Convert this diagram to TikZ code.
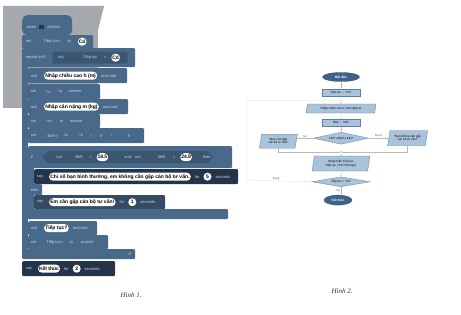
\documentclass[tikz,border=0pt]{standalone}
\usepackage{fontspec}
\setmainfont{Liberation Sans}
\newfontfamily\capfont{Liberation Serif}
\newfontfamily\symfont{DejaVu Sans}
\usetikzlibrary{arrows.meta,calc,positioning,shapes.geometric,shapes.misc}
\definecolor{blockblue}{HTML}{48698A}
\definecolor{blockdark}{HTML}{24344A}
\definecolor{photogray}{HTML}{A5A8AC}
\definecolor{flowfill}{HTML}{A9C3DA}
\definecolor{flowline}{HTML}{5C80A4}
\definecolor{termfill}{HTML}{3D6389}
\tikzset{
  sblock/.style={rectangle, fill=blockblue, anchor=north west, inner sep=0pt, rounded corners=1.2pt},
  sdark/.style={sblock, fill=blockdark},
  smid/.style={sblock, fill=blockblue!72!black},
  sword/.style={text=white!72!blockblue, font=\fontsize{4}{4}\selectfont, inner sep=0.6pt},
  pill/.style={rounded rectangle, fill=white, text=black, font=\bfseries\fontsize{5}{5}\selectfont, inner xsep=0.5pt, inner ysep=1.1pt, minimum height=8pt},
  cond/.style={chamfered rectangle, chamfered rectangle xsep=4pt, fill=blockblue!82!black, inner sep=0.6pt, minimum height=12pt, text=white!72!blockblue, font=\fontsize{4}{4}\selectfont},
  flagbox/.style={fill=blockdark, minimum width=5pt, minimum height=4pt, inner sep=0pt},
  fterm/.style={ellipse, fill=termfill, draw=termfill!70!black, line width=0.3pt, text=white, font=\bfseries\fontsize{3.2}{3.5}\selectfont, inner sep=0pt},
  fproc/.style={rectangle, fill=flowfill, draw=flowline, line width=0.3pt, font=\fontsize{3}{3.4}\selectfont, inner sep=0.5pt},
  fio/.style={trapezium, trapezium left angle=72, trapezium right angle=108, trapezium stretches body, fill=flowfill, draw=flowline, line width=0.3pt, font=\fontsize{3}{3.4}\selectfont, align=center, inner sep=0.5pt},
  fdec/.style={diamond, shape aspect=5, fill=flowfill, draw=flowline, line width=0.3pt, font=\fontsize{3}{3.4}\selectfont, inner sep=0pt},
  flow/.style={-{Stealth[length=1.6pt, width=1.4pt]}, draw=gray!55, line width=0.3pt},
  faint/.style={flow, draw=gray!30},
  flab/.style={font=\fontsize{2.8}{3}\selectfont, text=gray!75!black, inner sep=0.8pt},
  caption/.style={font=\capfont\itshape\fontsize{7}{7}\selectfont, text=black!80}
}
\newcommand{\drop}{\,{\symfont\fontsize{3}{3}\selectfont▾}}

\begin{document}
\begin{tikzpicture}[x=1pt, y=-1pt]
  \useasboundingbox (0,0) rectangle (461,315);
  % edge of the photographed page
  \fill[photogray] (3,6) -- (104,6) -- (98,30) -- (97,108) -- (3,108) -- cycle;

  % Hinh 1: the Scratch script
  \node[sblock, minimum width=6pt, minimum height=196pt] (armR) at (22,62) {};
  \node[sblock, minimum width=6pt, minimum height=55pt] (armI) at (28,164) {};
  \node[sblock, minimum width=50pt, minimum height=20pt, rounded corners=5pt] (hat) at (22,15) {};
  \node[sblock, minimum width=71pt, minimum height=13pt] (b1) at (22,35) {};
  \node[sblock, minimum width=113pt, minimum height=19pt] (b2) at (22,48) {};
  \node[sblock, minimum width=99pt, minimum height=15pt] (b3) at (28,68) {};
  \node[sblock, minimum width=72pt, minimum height=15pt] (b4) at (28,84) {};
  \node[sblock, minimum width=100pt, minimum height=15pt] (b5) at (28,99) {};
  \node[sblock, minimum width=72pt, minimum height=14pt] (b6) at (28,114) {};
  \node[sblock, minimum width=116pt, minimum height=15pt] (b7) at (28,128) {};
  \node[sblock, minimum width=204pt, minimum height=22pt] (b8) at (28,146) {};
  \node[sdark, minimum width=204pt, minimum height=15pt] (b9) at (34,169) {};
  \node[sblock, minimum width=14pt, minimum height=11pt] (b10) at (28,184) {};
  \node[smid, minimum width=131pt, minimum height=14pt] (b11) at (34,195) {};
  \node[sblock, minimum width=200pt, minimum height=10pt] (b12) at (28,209) {};
  \node[sblock, minimum width=69pt, minimum height=14pt] (b13) at (28,221) {};
  \node[sblock, minimum width=80pt, minimum height=14pt] (b14) at (28,235) {};
  \node[sblock, minimum width=113pt, minimum height=10pt] (b15) at (22,249) {};
  \node[sdark, minimum width=93pt, minimum height=15pt] (b16) at (22,261) {};

  % when flag clicked
  \node[sword, right=4pt of hat.west, yshift=-2pt] (h1) {when};
  \node[flagbox, right=2pt of h1] (h2) {};
  \node[sword, right=2pt of h2] (h3) {clicked};
  % set Tiep tuc to Co
  \node[sword, right=3pt of b1.west] (s1) {set};
  \node[sword, right=11pt of s1] (s2) {Tiếp tục\drop};
  \node[sword, right=6pt of s2] (s3) {to};
  \node[pill, right=6pt of s3] (s4) {Có};
  % repeat until
  \node[sword, right=3pt of b2.west] (r1) {repeat until};
  \node[cond, minimum width=75pt, right=6pt of r1] (r2) {};
  \node[sword, right=5pt of r2.west] (r3) {not};
  \node[sword, right=18pt of r3] (r4) {Tiếp tục};
  \node[sword, right=5pt of r4] (r5) {=};
  \node[pill, right=4pt of r5] (r6) {Có};
  % ask height
  \node[sword, right=2pt of b3.west] (a1) {ask};
  \node[pill, right=6pt of a1] (a2) {Nhập chiều cao h (m)};
  \node[sword, right=3pt of a2] (a3) {and wait};
  \node[sword, right=2pt of b4.west] (a4) {set};
  \node[sword, right=9pt of a4] (a5) {h\drop};
  \node[sword, right=6pt of a5] (a6) {to};
  \node[sword, right=5pt of a6] (a7) {answer};
  % ask weight
  \node[sword, right=2pt of b5.west] (w1) {ask};
  \node[pill, right=6pt of w1] (w2) {Nhập cân nặng m (kg)};
  \node[sword, right=3pt of w2] (w3) {and wait};
  \node[sword, right=2pt of b6.west] (w4) {set};
  \node[sword, right=9pt of w4] (w5) {m\drop};
  \node[sword, right=6pt of w5] (w6) {to};
  \node[sword, right=5pt of w6] (w7) {answer};
  % set BMI
  \node[sword, right=2pt of b7.west] (m1) {set};
  \node[sword, right=10pt of m1] (m2) {BMI\drop};
  \node[sword, right=6pt of m2] (m3) {to};
  \node[sword, right=10pt of m3] (m4) {m};
  \node[sword, right=6pt of m4] (m5) {/};
  \node[sword, right=7pt of m5] (m6) {h};
  \node[sword, right=7pt of m6] (m7) {*};
  \node[sword, right=14pt of m7] (m8) {h};
  % if ... then
  \node[sword, right=2pt of b8.west] (c1) {if};
  \node[cond, minimum width=170pt, right=9pt of c1] (c2) {and};
  \node[sword, right=13pt of c2.west] (c3) {not};
  \node[sword, right=12pt of c3] (c4) {BMI};
  \node[sword, right=5pt of c4] (c5) {<};
  \node[pill, right=4pt of c5] (c6) {18.5};
  \node[sword, right=26pt of c6] (c7) {not};
  \node[sword, right=16pt of c7] (c8) {BMI};
  \node[sword, right=6pt of c8] (c9) {>};
  \node[pill, right=4pt of c9] (c10) {24.9};
  \node[sword, right=10pt of c10] (c11) {then};
  % say, normal
  \node[sword, right=2pt of b9.west] (y1) {say};
  \node[pill, right=5pt of y1] (y2) {Chỉ số bạn bình thường, em không cần gặp cán bộ tư vấn.};
  \node[sword, right=3pt of y2] (y3) {for};
  \node[pill, right=3pt of y3] (y4) {5};
  \node[sword, right=3pt of y4] (y5) {seconds};
  \node[sword, right=2pt of b10.west] (e1) {else};
  % say, advice
  \node[sword, right=2pt of b11.west] (v1) {say};
  \node[pill, right=5pt of v1] (v2) {Em cần gặp cán bộ tư vấn!};
  \node[sword, right=3pt of v2] (v3) {for};
  \node[pill, right=3pt of v3] (v4) {1};
  \node[sword, right=3pt of v4] (v5) {seconds};
  % continue?
  \node[sword, right=2pt of b13.west] (t1) {ask};
  \node[pill, right=6pt of t1] (t2) {Tiếp tục?};
  \node[sword, right=3pt of t2] (t3) {and wait};
  \node[sword, right=2pt of b14.west] (t4) {set};
  \node[sword, right=9pt of t4] (t5) {Tiếp tục\drop};
  \node[sword, right=5pt of t5] (t6) {to};
  \node[sword, right=6pt of t6] (t7) {answer};
  \node[sword, left=3pt of b15.east, font=\symfont\fontsize{4}{4}\selectfont] (l1) {↺};
  % say goodbye
  \node[sword, right=3pt of b16.west] (k1) {say};
  \node[pill, right=5pt of k1] (k2) {Kết thúc};
  \node[sword, right=3pt of k2] (k3) {for};
  \node[pill, right=3pt of k3] (k4) {2};
  \node[sword, right=3pt of k4] (k5) {seconds};

  \node[caption] (cap1) at (131,295) {Hình 1.};

  % Hinh 2: the flowchart
  \node[fterm, minimum width=37pt, minimum height=9pt] (start) at (341,77) {Bắt đầu};
  \node[fproc, minimum width=38pt, minimum height=7pt, below=7pt of start] (init) {Tiếp tục ← "Có"};
  \node[fio, minimum width=70pt, minimum height=9pt, below=8pt of init] (input) {Nhập chiều cao h, cân nặng m};
  \node[fproc, minimum width=38pt, minimum height=7pt, below=6pt of input] (bmi) {BMI ← m/h²};
  \node[fdec, minimum width=55pt, minimum height=12pt, below=5.5pt of bmi] (check) {18,5 ≤ BMI ≤ 24,9};
  \node[fio, minimum width=38pt, minimum height=14pt, left=17pt of check, yshift=-3pt] (advise) {"Bạn cần gặp\\cán bộ tư vấn!"};
  \node[fio, minimum width=40pt, minimum height=15pt, right=20pt of check] (fine) {"Bạn không cần gặp\\cán bộ tư vấn!"};
  \node[fio, minimum width=58pt, minimum height=15pt, below=11.5pt of check] (again) {Nhập biến Tiếp tục\\Tiếp tục ("Có"/"Không")};
  \node[fdec, minimum width=58pt, minimum height=10pt, below=5.5pt of again] (ask) {Tiếp tục = "Có"};
  \node[fterm, minimum width=28pt, minimum height=10pt, below=8pt of ask, xshift=-3pt] (stop) {Kết thúc};
  \coordinate (join) at ($(again.north)+(0,-4)$);
  \coordinate (loopL) at (247,180);
  \coordinate (loopT) at ($(init.south)!0.55!(input.north)$);

  \draw[flow] (start) -- (init);
  \draw[flow] (init) -- (input);
  \draw[flow] (input) -- (bmi);
  \draw[flow] (bmi) -- (check);
  \draw[flow] (check.west) -- node[flab, above]{Sai} (advise.east |- check.west);
  \draw[flow] (check.east) -- node[flab, above]{Đúng} (fine.west |- check.east);
  \draw[flow] (advise.south) |- (join);
  \draw[flow] (fine.south) |- (join);
  \draw[flow] (join) -- (again);
  \draw[flow] (again) -- (ask);
  \draw[faint] (ask.west) -- node[flab, above, pos=0.55]{Đúng} (loopL) |- (loopT);
  \draw[flow] (ask) -- node[flab, left]{Sai} (ask.south |- stop.north);

  \node[caption] (cap2) at (342,291) {Hình 2.};
\end{tikzpicture}
\end{document}
